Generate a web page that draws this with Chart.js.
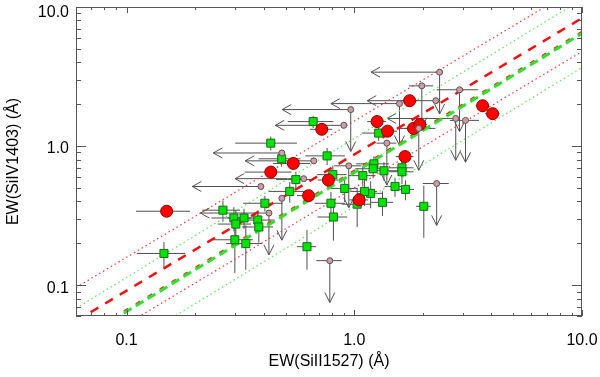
<!DOCTYPE html>
<html>
<head>
<meta charset="utf-8">
<script src="https://cdn.jsdelivr.net/npm/chart.js@4.4.1/dist/chart.umd.min.js"></script>
<style>
  html, body { margin: 0; padding: 0; background: #fff; }
  #wrap { width: 600px; height: 377px; }
</style>
</head>
<body>
<div id="wrap"><canvas id="chart"></canvas></div>
<script>
// axis ranges, ticks, titles
const xRange = [0.06, 10];
const yRange = [0.06, 10];
const majorTicks = [0.1, 1, 10];
const tickLabels = ['0.1', '1.0', '10.0'];
const xTitle = 'EW(SiII1527) (Å)';
const yTitle = 'EW(SiIV1403) (Å)';

// red circles
const redX    = [0.15, 0.43, 0.54, 0.72, 0.77, 0.63, 1.05, 1.26, 1.40, 1.75, 1.82, 1.94, 1.67, 3.66, 4.05];
const redY    = [0.34, 0.65, 0.75, 1.32, 0.57, 0.44, 0.41, 1.50, 1.28, 2.12, 1.34, 1.43, 0.84, 1.95, 1.71];
const redXErr = [0.04, 0.10, 0.10, 0.08, 0.08, 0.07, 0.10, 0.12, 0.14, 0.15, 0.15, 0.15, 0.15, 0.25, 0.30];
const redYErr = [0.02, 0.05, 0.06, 0.10, 0.05, 0.04, 0.04, 0.12, 0.10, 0.15, 0.10, 0.10, 0.07, 0.12, 0.12];

// green squares
const greenX    = [0.265, 0.296, 0.328, 0.302, 0.377, 0.381, 0.405, 0.299, 0.334, 0.146, 0.521, 0.554, 0.805, 0.908, 1.09, 1.22, 1.21, 1.35, 1.62, 1.62, 1.51, 1.68, 1.18, 1.11, 1.03, 0.79, 0.81, 1.33, 2.02, 0.62, 0.66, 1.28, 0.76, 0.43, 0.48];
const greenY    = [0.346, 0.304, 0.304, 0.275, 0.294, 0.262, 0.388, 0.212, 0.199, 0.169, 0.472, 0.574, 0.623, 0.496, 0.613, 0.745, 0.687, 0.665, 0.698, 0.654, 0.512, 0.488, 0.457, 0.472, 0.382, 0.388, 0.309, 0.394, 0.369, 0.189, 1.50, 1.24, 0.85, 1.05, 0.81];
const greenXErr = [0.05, 0.06, 0.05, 0.05, 0.07, 0.06, 0.08, 0.06, 0.06, 0.035, 0.10, 0.10, 0.12, 0.12, 0.15, 0.20, 0.20, 0.20, 0.20, 0.20, 0.15, 0.15, 0.15, 0.15, 0.15, 0.12, 0.12, 0.15, 0.15, 0.06, 0.15, 0.20, 0.15, 0.13, 0.10];
const greenYErr = [0.06, 0.06, 0.05, 0.07, 0.05, 0.06, 0.05, 0.09, 0.07, 0.035, 0.08, 0.08, 0.10, 0.10, 0.10, 0.10, 0.10, 0.10, 0.10, 0.12, 0.08, 0.08, 0.10, 0.10, 0.12, 0.08, 0.10, 0.08, 0.15, 0.06, 0.15, 0.15, 0.12, 0.12, 0.10];

// upper limits (small pink circles); limLeft = limit on x, limDown = limit on y
const limX    = [2.37, 1.98, 2.90, 1.58, 2.28, 0.965, 0.90, 1.39, 1.92, 2.79, 3.08, 0.664, 2.30, 0.481, 0.946, 0.600, 0.389, 0.481, 0.422, 0.781];
const limY    = [3.40, 2.71, 2.54, 2.02, 2.12, 1.83, 1.41, 1.05, 1.34, 1.58, 1.53, 0.783, 0.538, 0.892, 0.721, 0.583, 0.512, 0.421, 0.330, 0.150];
const limXErr = [0, 0.24, 0.6, 0, 0, 0, 0, 0.14, 0.35, 0, 0.45, 0, 0.3, 0, 0.13, 0, 0, 0, 0, 0.1];
const limLeft = [1, 0, 0, 1, 1, 1, 1, 0, 0, 1, 0, 1, 0, 1, 0, 1, 1, 0, 1, 0];
const limDown = [1, 1, 1, 1, 0, 1, 0, 1, 1, 1, 1, 0, 1, 0, 1, 0, 0, 1, 1, 1];
const limFactor = 0.5;

// fits: log y = a + b log x, dotted lines at +/- scatter (dex)
const redFit   = [-0.06, 0.98, 0.24];
const greenFit = [-0.19, 1.00, 0.245];
const redFit2  = [-0.175, 1.00, 0];

function fitLine(fit, off) {
  return xRange.map(x => ({ x, y: Math.pow(10, fit[0] + fit[1] * Math.log10(x) + off) }));
}
function pts(xs, ys) { return xs.map((x, i) => ({ x, y: ys[i] })); }
function lineSet(data, color, width, dash) {
  return { data, showLine: true, pointRadius: 0, borderColor: color, borderWidth: width,
           borderDash: dash, fill: false, order: 10 };
}

const font = '16px "Liberation Sans", Arial, sans-serif';

const extras = {
  id: 'extras',
  beforeDraw(chart) {
    const ctx = chart.ctx;
    ctx.save();
    ctx.fillStyle = '#fff';
    ctx.fillRect(0, 0, chart.width, chart.height);
    ctx.restore();
  },
  beforeDatasetsDraw(chart) {
    const { ctx, chartArea: a, scales: { x: sx, y: sy } } = chart;
    ctx.save();
    ctx.beginPath();
    ctx.rect(a.left, a.top, a.right - a.left, a.bottom - a.top);
    ctx.clip();
    ctx.strokeStyle = '#505050';
    ctx.lineWidth = 1;
    const bars = (xs, ys, xe, ye) => xs.forEach((x, i) => {
      const cx = sx.getPixelForValue(x), cy = sy.getPixelForValue(ys[i]);
      ctx.beginPath();
      if (xe[i]) { ctx.moveTo(sx.getPixelForValue(x - xe[i]), cy); ctx.lineTo(sx.getPixelForValue(x + xe[i]), cy); }
      if (ye[i]) { ctx.moveTo(cx, sy.getPixelForValue(ys[i] - ye[i])); ctx.lineTo(cx, sy.getPixelForValue(ys[i] + ye[i])); }
      ctx.stroke();
    });
    bars(greenX, greenY, greenXErr, greenYErr);
    bars(redX, redY, redXErr, redYErr);
    limX.forEach((x, i) => {
      const cx = sx.getPixelForValue(x), cy = sy.getPixelForValue(limY[i]);
      ctx.beginPath();
      if (limXErr[i]) { ctx.moveTo(sx.getPixelForValue(x - limXErr[i]), cy); ctx.lineTo(sx.getPixelForValue(x + limXErr[i]), cy); }
      if (limLeft[i]) {
        const tx = sx.getPixelForValue(x * limFactor);
        ctx.moveTo(cx, cy); ctx.lineTo(tx, cy);
        ctx.moveTo(tx + 9, cy - 5); ctx.lineTo(tx, cy); ctx.lineTo(tx + 9, cy + 5);
      }
      if (limDown[i]) {
        const ty = sy.getPixelForValue(limY[i] * limFactor);
        ctx.moveTo(cx, cy); ctx.lineTo(cx, ty);
        ctx.moveTo(cx - 5, ty - 10); ctx.lineTo(cx, ty); ctx.lineTo(cx + 5, ty - 10);
      }
      ctx.stroke();
    });
    ctx.restore();
  },
  afterDraw(chart) {
    const { ctx, chartArea: a, scales: { x: sx, y: sy } } = chart;
    ctx.save();
    ctx.strokeStyle = '#555';
    ctx.lineWidth = 1;
    ctx.strokeRect(a.left + 0.5, a.top + 0.5, a.right - a.left - 1, a.bottom - a.top - 1);
    const vals = [];
    for (let e = -2; e <= 1; e++) for (let m = 1; m <= 9; m++) vals.push({ v: m * Math.pow(10, e), major: m === 1 });
    ctx.beginPath();
    vals.forEach(t => {
      if (t.v >= xRange[0] && t.v <= xRange[1]) {
        const p = Math.round(sx.getPixelForValue(t.v)) + 0.5, len = t.major ? 6 : 3;
        ctx.moveTo(p, a.bottom); ctx.lineTo(p, a.bottom - len);
        ctx.moveTo(p, a.top); ctx.lineTo(p, a.top + len);
      }
      if (t.v >= yRange[0] && t.v <= yRange[1]) {
        const p = Math.round(sy.getPixelForValue(t.v)) + 0.5, len = t.major ? 10 : 5;
        ctx.moveTo(a.left, p); ctx.lineTo(a.left + len, p);
        ctx.moveTo(a.right, p); ctx.lineTo(a.right - len, p);
      }
    });
    ctx.stroke();

    ctx.fillStyle = '#000';
    ctx.font = font;
    ctx.textBaseline = 'middle';
    ctx.textAlign = 'center';
    majorTicks.forEach((v, i) => ctx.fillText(tickLabels[i], sx.getPixelForValue(v), a.bottom + 25));
    ctx.textAlign = 'right';
    majorTicks.forEach((v, i) => ctx.fillText(tickLabels[i], a.left - 7, Math.max(sy.getPixelForValue(v) + 3, 12.5)));
    ctx.textAlign = 'center';
    ctx.fillText(xTitle, (a.left + a.right) / 2, a.bottom + 46);
    ctx.translate(14, (a.top + a.bottom) / 2);
    ctx.rotate(-Math.PI / 2);
    ctx.fillText(yTitle, 0, 0);
    ctx.restore();
  }
};

new Chart(document.getElementById('chart'), {
  type: 'scatter',
  data: {
    datasets: [
      lineSet(fitLine(redFit, redFit[2]), '#e8383a', 1.2, [1.5, 3]),
      lineSet(fitLine(redFit, -redFit[2]), '#e8383a', 1.2, [1.5, 3]),
      lineSet(fitLine(greenFit, greenFit[2]), '#5ee05e', 1.2, [1.5, 3]),
      lineSet(fitLine(greenFit, -greenFit[2]), '#5ee05e', 1.2, [1.5, 3]),
      lineSet(fitLine(greenFit, 0), '#33dd33', 3, [9, 5]),
      lineSet(fitLine(redFit2, 0), '#e03a10', 1.6, [5, 9]),
      lineSet(fitLine(redFit, 0), '#ee1111', 2.5, [9, 8]),
      { data: pts(greenX, greenY), pointStyle: 'rect', pointRadius: 5.7, backgroundColor: '#00e400',
        borderColor: '#1f6a1f', borderWidth: 1, order: 3 },
      { data: pts(redX, redY), pointStyle: 'circle', pointRadius: 6, backgroundColor: '#ff0000',
        borderColor: '#8a0000', borderWidth: 1, order: 2 },
      { data: pts(limX, limY), pointStyle: 'circle', pointRadius: 3, backgroundColor: '#cf9ea4',
        borderColor: '#555', borderWidth: 1, order: 1 }
    ]
  },
  options: {
    responsive: true,
    maintainAspectRatio: false,
    animation: false,
    events: [],
    layout: { padding: { left: 76, right: 18, top: 3, bottom: 61 } },
    scales: {
      x: { type: 'logarithmic', min: xRange[0], max: xRange[1], display: false },
      y: { type: 'logarithmic', min: yRange[0], max: yRange[1], display: false }
    },
    plugins: { legend: { display: false }, tooltip: { enabled: false } }
  },
  plugins: [extras]
});
</script>
</body>
</html>
